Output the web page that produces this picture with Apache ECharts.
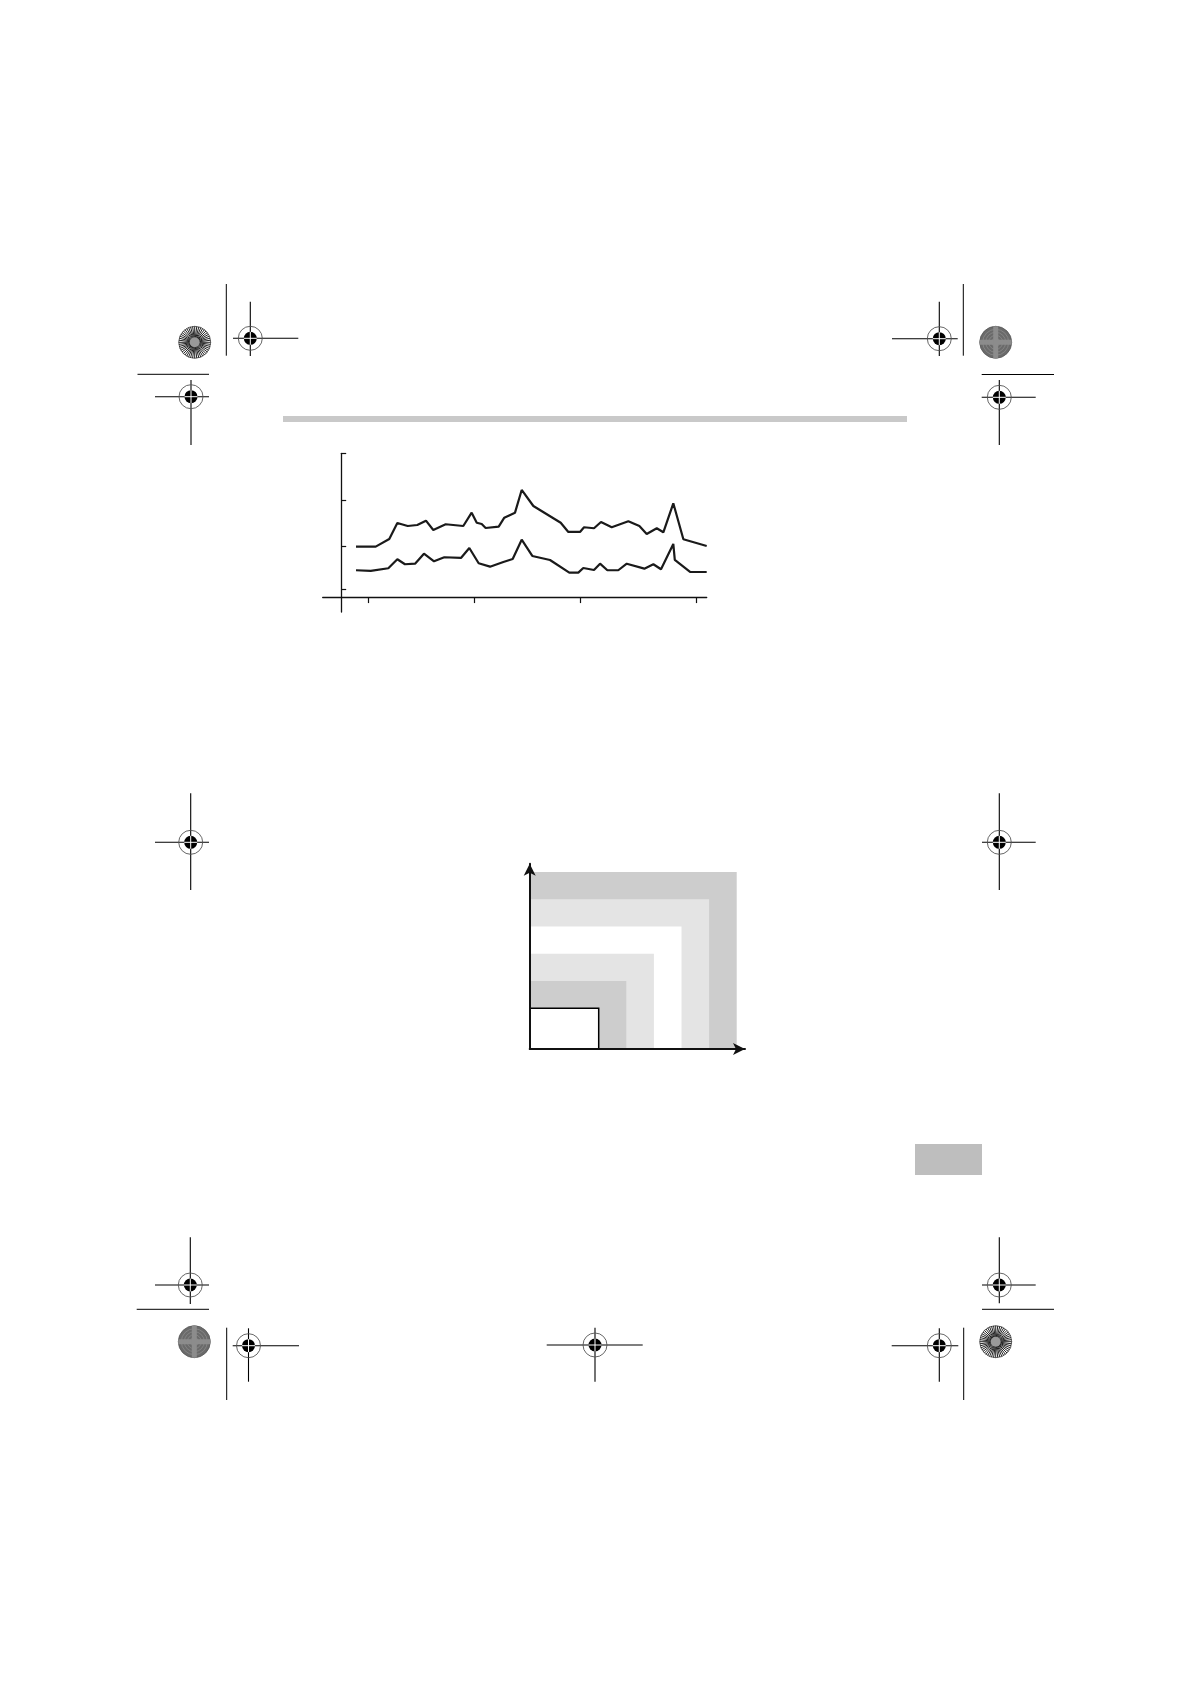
<!DOCTYPE html>
<html>
<head>
<meta charset="utf-8">
<script src="https://cdn.jsdelivr.net/npm/echarts@6/dist/echarts.min.js"></script>
<style>
html,body{margin:0;padding:0;background:#fff;}
#c{width:1190px;height:1684px;}
</style>
</head>
<body>
<div id="c"></div>
<script>
// ---- Line chart data (x position, value) ----
const upperX = [1.35,3.21,4.49,5.25,6.23,7.13,7.95,8.64,9.81,11.47,12.26,12.74,13.21,13.58,14.81,15.34,16.35,16.98,18.08,20.66,21.38,22.48,22.86,23.80,24.46,25.47,27.04,28.08,28.77,29.72,30.34,31.28,32.23,34.43];
const upperY = [10.94,10.94,12.59,16.03,15.38,15.60,16.52,14.53,15.75,15.38,18.24,16.09,15.81,14.95,15.23,17.17,18.24,23.12,19.68,16.09,14.10,14.10,15.11,14.89,16.24,15.11,16.39,15.38,13.67,14.89,14.03,20.26,12.53,11.09];
const lowerX = [1.35,2.74,4.40,5.25,5.97,6.92,7.76,8.71,9.68,11.25,12.04,12.92,13.99,15.25,16.13,16.98,17.98,19.65,21.47,22.32,22.79,23.80,24.37,25.06,26.09,26.89,28.55,29.40,30.12,31.28,31.42,32.86,34.43];
const lowerY = [5.87,5.72,6.30,8.23,7.16,7.28,9.43,7.80,8.66,8.51,10.66,7.37,6.64,7.65,8.29,12.44,8.94,8.08,5.35,5.35,6.36,5.93,7.28,5.87,5.87,7.28,6.21,7.16,6.08,11.52,8.08,5.50,5.50];
const xTicks = [2.51,12.51,22.48,33.4];
const yTicks = [1.8,11,21,31];

// ---- Nested rectangles diagram data ----
const rectWidths  = [7.5,6.5,5.5,4.5,3.5,2.5];
const rectHeights = [6.5,5.5,4.5,3.5,2.5,1.5];
const rectFills = ['#cdcdcd','#e4e4e4','#ffffff','#e4e4e4','#cdcdcd','#ffffff'];

const upper = upperX.map((x,i)=>[x,upperY[i]]);
const lower = lowerX.map((x,i)=>[x,lowerY[i]]);
const rects = rectWidths.map((w,i)=>[w,rectHeights[i]]);

// ---- page decoration helpers (printer marks) ----
const G = [];
function ln(x1,y1,x2,y2,w,c){G.push({type:'line',silent:true,shape:{x1,y1,x2,y2},style:{stroke:c||'#000',lineWidth:w||1}});}
function target(cx,cy,hx1,hx2,vy1,vy2){
  ln(hx1,cy,hx2,cy,1.1); ln(cx,vy1,cx,vy2,1.1);
  G.push({type:'circle',silent:true,shape:{cx,cy,r:12},style:{fill:'none',stroke:'#555',lineWidth:0.9}});
  G.push({type:'circle',silent:true,shape:{cx,cy,r:6.5},style:{fill:'#000'}});
  ln(cx-6.5,cy,cx+6.5,cy,1,'#fff'); ln(cx,cy-6.5,cx,cy+6.5,1,'#fff');
}
function starLight(cx,cy){
  G.push({type:'circle',silent:true,shape:{cx,cy,r:16},style:{fill:'#fff',stroke:'#444',lineWidth:0.8}});
  for(let i=0;i<48;i++){const a=i*Math.PI*2/48;ln(cx,cy,cx+16*Math.cos(a),cy+16*Math.sin(a),1,'#222');}
  G.push({type:'circle',silent:true,shape:{cx,cy,r:5},style:{fill:'#999'}});
}
function starDark(cx,cy){
  G.push({type:'circle',silent:true,shape:{cx,cy,r:16},style:{fill:'#6a6a6a',stroke:'#555',lineWidth:0.8}});
  for(let r=4;r<16;r+=3){G.push({type:'circle',silent:true,shape:{cx,cy,r},style:{fill:'none',stroke:'#8a8a8a',lineWidth:0.8}});}
  G.push({type:'rect',silent:true,shape:{x:cx-16,y:cy-2.5,width:32,height:5},style:{fill:'#8c8c8c'}});
  G.push({type:'rect',silent:true,shape:{x:cx-2.5,y:cy-16,width:5,height:32},style:{fill:'#8c8c8c'}});
}
// header bar & side tab
G.push({type:'rect',silent:true,shape:{x:283,y:416,width:624,height:6},style:{fill:'#c9c9c9'}});
G.push({type:'rect',silent:true,shape:{x:915,y:1144,width:67,height:31},style:{fill:'#bebebe'}});
// top-left
starLight(194.7,342.3); ln(226.3,284,226.3,355.7); target(250.3,338.3,233,298.3,301.7,356);
ln(137.5,374.3,209,374.3); target(191,396.7,155,209,380,445);
// top-right
target(939.3,338.7,892,957.7,301.7,356); ln(963.3,284,963.3,355.7); starDark(995.7,342.3);
ln(981.7,374.5,1054,374.5); target(999.3,397.3,981.7,1035.7,380,445);
// middle
target(190.7,842.3,155,209,793.3,890); target(999.3,842.3,982,1035.7,793.3,890);
// bottom-left
target(190.3,1285,155,209,1237.3,1304); ln(136.7,1309.3,209,1309.3); starDark(194.3,1341.7);
ln(226.7,1327.7,226.7,1400); target(248.5,1345.7,232.7,299,1328.3,1381.7);
// bottom-middle
target(595,1345,546.7,642.7,1327.7,1381.7);
// bottom-right
target(999.3,1285,982,1035.7,1237.3,1303.3); ln(982,1309.3,1054,1309.3); starLight(995.7,1341.7);
ln(963.7,1327.7,963.7,1400); target(939.3,1345.7,891.7,958.3,1328.3,1381.7);

const chart = echarts.init(document.getElementById('c'), null, {renderer:'canvas'});
chart.setOption({
  animation:false,
  backgroundColor:'#fff',
  graphic:{elements:G},
  grid:[
    {left:322.7, top:453.3, width:384, height:158.7},
    {left:529.7, top:863.7, width:215.3, height:185.3}
  ],
  xAxis:[
    {gridIndex:0,type:'value',min:-1.79,max:34.43,
     axisLine:{onZero:true,lineStyle:{color:'#111',width:1.3}},
     axisTick:{show:true,inside:false,length:5.5,customValues:xTicks,lineStyle:{color:'#111',width:1.2}},
     axisLabel:{show:false},splitLine:{show:false}},
    {gridIndex:1,type:'value',min:0,max:7.8,z:5,
     axisLine:{onZero:false,symbol:['none','arrow'],symbolSize:[9,12],lineStyle:{color:'#111',width:2}},
     axisTick:{show:false},axisLabel:{show:false},splitLine:{show:false}}
  ],
  yAxis:[
    {gridIndex:0,type:'value',min:-3.1,max:31,
     axisLine:{onZero:true,lineStyle:{color:'#111',width:1.3}},
     axisTick:{show:true,inside:true,length:4.5,customValues:yTicks,lineStyle:{color:'#111',width:1.2}},
     axisLabel:{show:false},splitLine:{show:false}},
    {gridIndex:1,type:'value',min:0,max:6.8,z:5,
     axisLine:{onZero:false,symbol:['none','arrow'],symbolSize:[9,12],lineStyle:{color:'#111',width:2}},
     axisTick:{show:false},axisLabel:{show:false},splitLine:{show:false}}
  ],
  series:[
    {type:'line',xAxisIndex:0,yAxisIndex:0,data:upper,showSymbol:false,symbol:'none',
     lineStyle:{color:'#1a1a1a',width:2.2},silent:true},
    {type:'line',xAxisIndex:0,yAxisIndex:0,data:lower,showSymbol:false,symbol:'none',
     lineStyle:{color:'#1a1a1a',width:2.2},silent:true},
    {type:'custom',xAxisIndex:1,yAxisIndex:1,data:rects,z:1,silent:true,clip:false,
     encode:{x:0,y:1},
     renderItem:function(params,api){
       const w=api.value(0),h=api.value(1);
       const p0=api.coord([0,0]),p1=api.coord([w,h]);
       const ch=[{type:'rect',shape:{x:p0[0],y:p1[1],width:p1[0]-p0[0],height:p0[1]-p1[1]},style:{fill:rectFills[params.dataIndex]}}];
       if(params.dataIndex===rectWidths.length-1){
         ch.push({type:'polyline',shape:{points:[[p0[0],p1[1]],[p1[0],p1[1]],[p1[0],p0[1]]]},style:{stroke:'#000',lineWidth:1.5,fill:null}});
       }
       return {type:'group',children:ch};
     }}
  ]
});
</script>
</body>
</html>
